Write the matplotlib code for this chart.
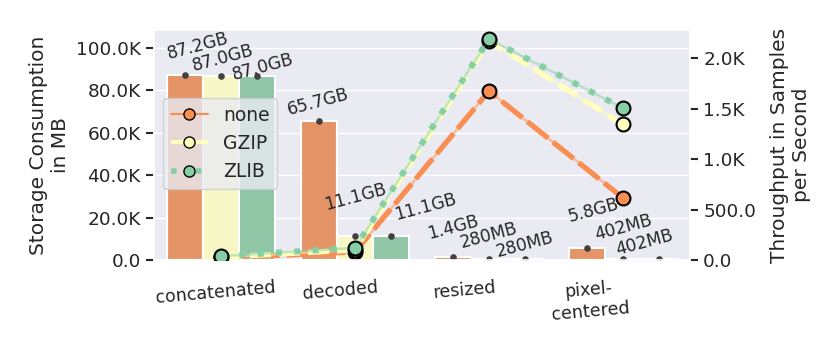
import numpy as np
import seaborn as sns
import matplotlib.pyplot as plt
from matplotlib.lines import Line2D
from matplotlib.ticker import FuncFormatter

stages = ["concatenated", "decoded", "resized", "pixel-\ncentered"]
codecs = ["none", "GZIP", "ZLIB"]

# storage in MB, one list per codec
storage_none = [87200, 65700, 1400, 5800]
storage_gzip = [87000, 11100, 280, 402]
storage_zlib = [87000, 11100, 280, 402]

# throughput in samples per second
speed_none = [20, 80, 1675, 615]
speed_gzip = [28, 100, 2170, 1345]
speed_zlib = [38, 120, 2190, 1505]

storage = [storage_none, storage_gzip, storage_zlib]
speed = [speed_none, speed_gzip, speed_zlib]

# label offsets in pixels (dx, dy) for each codec / stage
label_offsets = [
    [(13, 29), (-1, 19), (0, 30), (6, 37)],
    [(2, 18), (0, 40), (0, 24), (0, 32)],
    [(6, 9), (35, 30), (0, 15), (-14, 17)],
]
tick_shift = [-0.04, -0.11, -0.18, -0.25]


def k_fmt(v, pos=None):
    if abs(v) >= 1000:
        return f"{v / 1000:.1f}K"
    return f"{v:.1f}"


def size_fmt(v):
    if v >= 1000:
        return f"{v / 1000:.1f}GB"
    return f"{v:.0f}MB"


sns.set_theme(style="darkgrid")
pal = sns.color_palette("Spectral", 3)

fig = plt.figure(figsize=(8.31, 3.42), dpi=100)
ax = fig.add_axes([154 / 831, 82 / 342, 536 / 831, 230 / 342])
ax2 = ax.twinx()

x = np.arange(len(stages))
width = 0.8 / 3
for i, vals in enumerate(storage):
    pos = x + (i - 1) * width
    ax.bar(pos, vals, width, color=sns.desaturate(pal[i], 0.75),
           edgecolor="white", linewidth=1.5, zorder=2)
    ax.scatter(pos, vals, s=14, color=".25", zorder=3)
    for j, v in enumerate(vals):
        dx, dy = label_offsets[i][j]
        ax.annotate(size_fmt(v), (pos[j], v), xytext=(dx, dy),
                    textcoords="offset pixels", ha="center", va="center",
                    rotation=15, fontsize=12.3, color=".15", zorder=4)

ax.set_xlim(-0.5, 3.5)
ax.set_ylim(0, 108500)
ax.yaxis.set_major_formatter(FuncFormatter(k_fmt))
ax.set_xticks(x + np.array(tick_shift))
ax.set_xticklabels(stages, rotation=5, fontsize=12.6)
ax.tick_params(axis="x", length=0, pad=13)
ax.tick_params(axis="y", labelsize=13.3, length=6, width=1.5,
               color=".15", left=True)
ax.grid(axis="x", visible=False)
ax.set_ylabel("Storage Consumption\nin MB", fontsize=14.5)

styles = [(0, (5, 1.2)), (0, (4, 1.5)), (0, (1, 2))]
widths = [3.8, 3.8, 4.4]
for i, vals in enumerate(speed):
    ax2.plot(x, vals, color=pal[i], lw=1.8, alpha=0.5, zorder=2 + i)
    ax2.plot(x, vals, color=pal[i], lw=widths[i], linestyle=styles[i],
             dash_capstyle="butt", zorder=2 + i)
    ax2.plot(x, vals, linestyle="none", marker="o", ms=10,
             markerfacecolor=pal[i], markeredgecolor="black",
             markeredgewidth=1.5, zorder=2 + i)

ax2.set_ylim(0, 2280)
ax2.yaxis.set_major_formatter(FuncFormatter(k_fmt))
ax2.tick_params(axis="y", labelsize=13.3, length=6, width=1.5,
                color=".15", right=True)
ax2.grid(False)
ax2.set_ylabel("Throughput in Samples\nper Second", fontsize=14.5,
               labelpad=10)

handles = [
    Line2D([], [], color=pal[0], lw=1.5, marker="o", ms=8,
           markeredgecolor="black"),
    Line2D([], [], color=pal[1], lw=3, linestyle=(0, (4, 1.5)), marker="o",
           ms=8, markeredgecolor="black"),
    Line2D([], [], color=pal[2], lw=4, linestyle=(0, (1, 3.5)), marker="o",
           ms=8, markeredgecolor="black"),
]
ax2.legend(handles, codecs, loc="upper left", bbox_to_anchor=(0.017, 0.704),
           borderaxespad=0, fontsize=13.5)

fig.savefig("out.png", dpi=100)
